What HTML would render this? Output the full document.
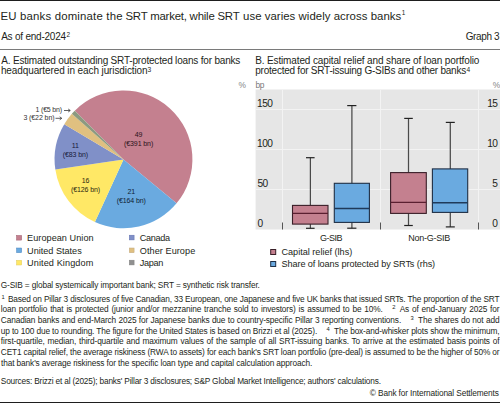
<!DOCTYPE html>
<html><head><meta charset="utf-8">
<style>
html,body{margin:0;padding:0;background:#fff;}
body{width:500px;height:403px;position:relative;overflow:hidden;font-family:"Liberation Sans",sans-serif;color:#231f20;}
.t{position:absolute;white-space:nowrap;line-height:1;}
.fn{position:absolute;left:0.8px;width:498.6px;font-size:8.3px;line-height:1;white-space:nowrap;text-align:justify;text-align-last:justify;letter-spacing:-0.12px;}
.g{display:inline-block;position:relative;height:1px;}
.g i{position:absolute;font-style:normal;font-size:5.8px;line-height:1;top:-6.0px;}
.fsup{position:absolute;font-size:5.6px;line-height:1;top:-0.8px;}
</style></head><body>
<div style="position:absolute;left:0;top:0;width:500px;height:1.3px;background:#1e1e1e"></div>
<div style="position:absolute;left:0;top:48.8px;width:500px;height:1px;background:#7a7a7a"></div>
<svg style="position:absolute;left:0;top:0" width="500" height="403">
<path d="M123.5,159.4 L74.78,110.68 A68.9,68.9 0 0 1 176.55,203.37 Z" fill="#C4808F"/>
<path d="M123.5,159.4 L176.55,203.37 A68.9,68.9 0 0 1 94.92,222.09 Z" fill="#6AAAE0"/>
<path d="M123.5,159.4 L94.92,222.09 A68.9,68.9 0 0 1 55.35,169.54 Z" fill="#FFE866"/>
<path d="M123.5,159.4 L55.35,169.54 A68.9,68.9 0 0 1 64.28,124.18 Z" fill="#8090C8"/>
<path d="M123.5,159.4 L64.28,124.18 A68.9,68.9 0 0 1 71.85,113.80 Z" fill="#E0C080"/>
<path d="M123.5,159.4 L71.85,113.80 A68.9,68.9 0 0 1 74.78,110.68 Z" fill="#8C9A80"/>
<!-- arrows -->
<g stroke="#3a3a3a" stroke-width="0.8" fill="none">
<line x1="64" y1="110.5" x2="70" y2="110.5"/>
<path d="M68.2,109 L70.3,110.5 L68.2,112"/>
<line x1="55.5" y1="118.3" x2="61.5" y2="118.3"/>
<path d="M59.7,116.8 L61.8,118.3 L59.7,119.8"/>
</g>
<!-- panel B plot -->
<rect x="255.6" y="89.5" width="244.4" height="140" fill="#E6E6E6"/>
<g stroke="#f3f3f3" stroke-width="1">
<line x1="255.6" y1="109.5" x2="500" y2="109.5"/>
<line x1="255.6" y1="149.5" x2="500" y2="149.5"/>
<line x1="255.6" y1="189.5" x2="500" y2="189.5"/>
<line x1="282.5" y1="89.5" x2="282.5" y2="229.5"/>
<line x1="380.5" y1="89.5" x2="380.5" y2="229.5"/>
<line x1="478.5" y1="89.5" x2="478.5" y2="229.5"/>
</g>
<g stroke="#555" stroke-width="1">
<line x1="282.5" y1="222.5" x2="282.5" y2="229.5"/>
<line x1="380.5" y1="222.5" x2="380.5" y2="229.5"/>
<line x1="478.5" y1="222.5" x2="478.5" y2="229.5"/>
</g>
<!-- whiskers -->
<g stroke="#4a4a4a" stroke-width="1.25">
<line x1="310.4" y1="157.7" x2="310.4" y2="228.3"/>
<line x1="351.9" y1="105.6" x2="351.9" y2="228.2"/>
<line x1="408.5" y1="118.4" x2="408.5" y2="225.5"/>
<line x1="450.3" y1="122.4" x2="450.3" y2="226.9"/>
</g>
<g stroke="#222" stroke-width="1.2">
<line x1="306" y1="157.7" x2="314.6" y2="157.7"/>
<line x1="306" y1="228.3" x2="314.6" y2="228.3"/>
<line x1="347.2" y1="105.6" x2="356.4" y2="105.6"/>
<line x1="347.2" y1="228.2" x2="356.4" y2="228.2"/>
<line x1="404.2" y1="118.4" x2="412.8" y2="118.4"/>
<line x1="404.2" y1="225.5" x2="412.8" y2="225.5"/>
<line x1="445.8" y1="122.4" x2="454.8" y2="122.4"/>
<line x1="445.8" y1="226.9" x2="454.8" y2="226.9"/>
</g>
<g stroke-width="1.1">
<rect x="292.5" y="205.4" width="35.5" height="18.7" fill="#C4808F" stroke="#3a1f28"/>
<line x1="292.5" y1="213.4" x2="328" y2="213.4" stroke="#5a1f30" stroke-width="1.4"/>
<rect x="334.3" y="183.3" width="35.1" height="39.1" fill="#6AAAE0" stroke="#1f2f45"/>
<line x1="334.3" y1="208.5" x2="369.4" y2="208.5" stroke="#1f3a5a" stroke-width="1.4"/>
<rect x="390.6" y="172.6" width="35.7" height="40.8" fill="#C4808F" stroke="#3a1f28"/>
<line x1="390.6" y1="202.4" x2="426.3" y2="202.4" stroke="#5a1f30" stroke-width="1.4"/>
<rect x="432.4" y="168.9" width="35.3" height="43.5" fill="#6AAAE0" stroke="#1f2f45"/>
<line x1="432.4" y1="202.8" x2="467.7" y2="202.8" stroke="#1f3a5a" stroke-width="1.4"/>
</g>
<!-- legend squares A -->
<g stroke-width="0.5">
<rect x="16.5" y="235.4" width="5.2" height="4.7" fill="#C4808F" stroke="#a06070"/>
<rect x="16.5" y="248.0" width="5.2" height="4.7" fill="#6AAAE0" stroke="#5088c0"/>
<rect x="16.5" y="260.3" width="5.2" height="4.7" fill="#FFE866" stroke="#e0cc60"/>
<rect x="129.3" y="235.2" width="4.8" height="4.7" fill="#8090C8" stroke="#6070b0"/>
<rect x="129.3" y="248.0" width="4.8" height="4.7" fill="#E0C080" stroke="#c0a880"/>
<rect x="129.3" y="260.2" width="4.8" height="4.7" fill="#909090" stroke="#808080"/>
</g>
<!-- legend squares B -->
<rect x="270.7" y="249.5" width="5" height="5" fill="#C4808F" stroke="#3a1f28" stroke-width="1"/>
<rect x="270.7" y="261.5" width="5" height="5" fill="#6AAAE0" stroke="#1f2f45" stroke-width="1"/>
</svg>
<div class="t" style="left:0.46px;top:11px;font-size:11.4px;letter-spacing:0.182px;">EU banks dominate the</div>
<div class="t" style="left:125.48px;top:11px;font-size:11.4px;letter-spacing:-0.210px;">SRT market, while SRT</div>
<div class="t" style="left:243.06px;top:11px;font-size:11.4px;letter-spacing:0.039px;">use varies widely across banks</div>
<div class="t" style="left:401.71px;top:10px;font-size:6.4px">1</div>
<div class="t" style="left:1.18px;top:32px;font-size:10.0px;letter-spacing:-0.224px;">As of end-2024</div>
<div class="t" style="left:66.48px;top:32px;font-size:6.4px">2</div>
<div class="t" style="left:465.70px;top:32px;font-size:10.0px;letter-spacing:-0.366px;">Graph 3</div>
<div class="t" style="left:1.28px;top:56px;font-size:10.0px;letter-spacing:-0.184px;">A. Estimated outstanding SRT-protected loans for banks</div>
<div class="t" style="left:0.91px;top:66px;font-size:10.0px;letter-spacing:-0.102px;">headquartered in each jurisdiction</div>
<div class="t" style="left:147.55px;top:67px;font-size:6.6px">3</div>
<div class="t" style="left:255.13px;top:56px;font-size:10.0px;letter-spacing:-0.129px;">B. Estimated capital relief and share of loan portfolio</div>
<div class="t" style="left:255.31px;top:66px;font-size:10.0px;letter-spacing:-0.240px;">protected for SRT-issuing G-SIBs and other banks</div>
<div class="t" style="left:466.45px;top:67px;font-size:6.6px">4</div>
<div class="t" style="left:238.50px;top:81px;font-size:8.4px;color:#858585;">%</div>
<div class="t" style="left:255.46px;top:81px;font-size:8.4px;letter-spacing:-0.334px;color:#7a7a7a;">bp</div>
<div class="t" style="left:492.80px;top:81px;font-size:8.4px;color:#858585;">%</div>
<div class="t" style="left:257.02px;top:99px;font-size:10.2px;letter-spacing:-0.500px;">150</div>
<div class="t" style="left:257.02px;top:139px;font-size:10.2px;letter-spacing:-0.500px;">100</div>
<div class="t" style="left:257.39px;top:179px;font-size:10.2px;letter-spacing:-0.500px;">50</div>
<div class="t" style="left:257.40px;top:219px;font-size:10.2px;letter-spacing:-0.500px;">0</div>
<div class="t" style="left:487.18px;top:99px;font-size:10.2px;letter-spacing:-0.500px;">15</div>
<div class="t" style="left:487.15px;top:139px;font-size:10.2px;letter-spacing:-0.500px;">10</div>
<div class="t" style="left:492.36px;top:179px;font-size:10.2px;letter-spacing:-0.500px;">5</div>
<div class="t" style="left:492.33px;top:219px;font-size:10.2px;letter-spacing:-0.500px;">0</div>
<div class="t" style="left:319.90px;top:234px;font-size:9.0px;letter-spacing:-0.500px;">G-SIB</div>
<div class="t" style="left:408.26px;top:234px;font-size:9.0px;letter-spacing:-0.250px;">Non-G-SIB</div>
<div class="t" style="left:27.05px;top:234px;font-size:9.15px;letter-spacing:0.046px;">European Union</div>
<div class="t" style="left:27.09px;top:247px;font-size:9.15px;letter-spacing:-0.012px;">United States</div>
<div class="t" style="left:27.09px;top:259px;font-size:9.15px;letter-spacing:0.098px;">United Kingdom</div>
<div class="t" style="left:139.74px;top:234px;font-size:9.15px;letter-spacing:-0.321px;">Canada</div>
<div class="t" style="left:139.77px;top:247px;font-size:9.15px;letter-spacing:0.060px;">Other Europe</div>
<div class="t" style="left:139.76px;top:259px;font-size:9.15px;letter-spacing:-0.350px;">Japan</div>
<div class="t" style="left:281.44px;top:248px;font-size:9.15px;letter-spacing:-0.009px;">Capital relief (lhs)</div>
<div class="t" style="left:281.48px;top:260px;font-size:9.15px;letter-spacing:-0.091px;">Share of loans protected by SRTs (rhs)</div>
<div class="t" style="left:0.78px;top:281px;font-size:8.3px;letter-spacing:-0.135px;">G-SIB = global systemically important bank; SRT = synthetic risk transfer.</div>
<div class="t" style="left:1.07px;top:359px;font-size:8.3px;letter-spacing:-0.117px;">that bank's average riskiness for the specific loan type and capital calculation approach.</div>
<div class="t" style="left:0.82px;top:377px;font-size:8.3px;letter-spacing:-0.182px;">Sources: Brizzi et al (2025); banks' Pillar 3 disclosures; S&amp;P Global Market Intelligence; authors' calculations.</div>
<div class="t" style="left:369.87px;top:389px;font-size:8.3px;letter-spacing:-0.128px;">© Bank for International Settlements</div>
<div class="t" style="left:108.60px;width:60px;text-align:center;top:131px;font-size:7.0px;color:#2a1219;letter-spacing:-0.1px">49</div>
<div class="t" style="left:108.60px;width:60px;text-align:center;top:140px;font-size:7.0px;color:#2a1219;letter-spacing:-0.1px">(€391 bn)</div>
<div class="t" style="left:101.30px;width:60px;text-align:center;top:188px;font-size:7.0px;color:#0f1e33;letter-spacing:-0.1px">21</div>
<div class="t" style="left:101.30px;width:60px;text-align:center;top:196.5px;font-size:7.0px;color:#0f1e33;letter-spacing:-0.1px">(€164 bn)</div>
<div class="t" style="left:55.50px;width:60px;text-align:center;top:177px;font-size:7.0px;color:#2b2710;letter-spacing:-0.1px">16</div>
<div class="t" style="left:55.50px;width:60px;text-align:center;top:185.5px;font-size:7.0px;color:#2b2710;letter-spacing:-0.1px">(€126 bn)</div>
<div class="t" style="left:45.40px;width:60px;text-align:center;top:142px;font-size:7.0px;color:#181a38;letter-spacing:-0.1px">11</div>
<div class="t" style="left:45.40px;width:60px;text-align:center;top:151px;font-size:7.0px;color:#181a38;letter-spacing:-0.1px">(€83 bn)</div>
<div class="t" style="left:35.57px;top:106px;font-size:7.0px;letter-spacing:-0.195px;color:#333">1 (€5 bn)</div>
<div class="t" style="left:23.43px;top:114px;font-size:7.0px;letter-spacing:-0.091px;color:#333">3 (€22 bn)</div>
<div class="fn" style="top:295px;letter-spacing:-0.160px"><span class="g" style="width:7.1px"><i style="left:0.6px">1</i></span>Based on Pillar 3 disclosures of five Canadian, 33 European, one Japanese and five UK banks that issued SRTs. The proportion of the SRT</div>
<div class="fn" style="top:305px;letter-spacing:-0.120px">loan portfolio that is protected (junior and/or mezzanine tranche sold to investors) is assumed to be 10%.<span class="g" style="width:17px"><i style="left:9.5px">2</i></span>As of end-January 2025 for</div>
<div class="fn" style="top:316px;letter-spacing:-0.120px">Canadian banks and end-March 2025 for Japanese banks due to country-specific Pillar 3 reporting conventions.<span class="g" style="width:17px"><i style="left:9.5px">3</i></span>The shares do not add</div>
<div class="fn" style="top:327px;letter-spacing:-0.139px">up to 100 due to rounding. The figure for the United States is based on Brizzi et al (2025).<span class="g" style="width:17px"><i style="left:9.5px">4</i></span>The box-and-whisker plots show the minimum,</div>
<div class="fn" style="top:337px;letter-spacing:-0.120px">first-quartile, median, third-quartile and maximum values of the sample of all SRT-issuing banks. To arrive at the estimated basis points of</div>
<div class="fn" style="top:348px;letter-spacing:-0.156px">CET1 capital relief, the average riskiness (RWA to assets) for each bank's SRT loan portfolio (pre-deal) is assumed to be the higher of 50% or</div>
<div style="position:absolute;left:0;top:401.8px;width:500px;height:1.2px;background:#1e1e1e"></div>
</body></html>
